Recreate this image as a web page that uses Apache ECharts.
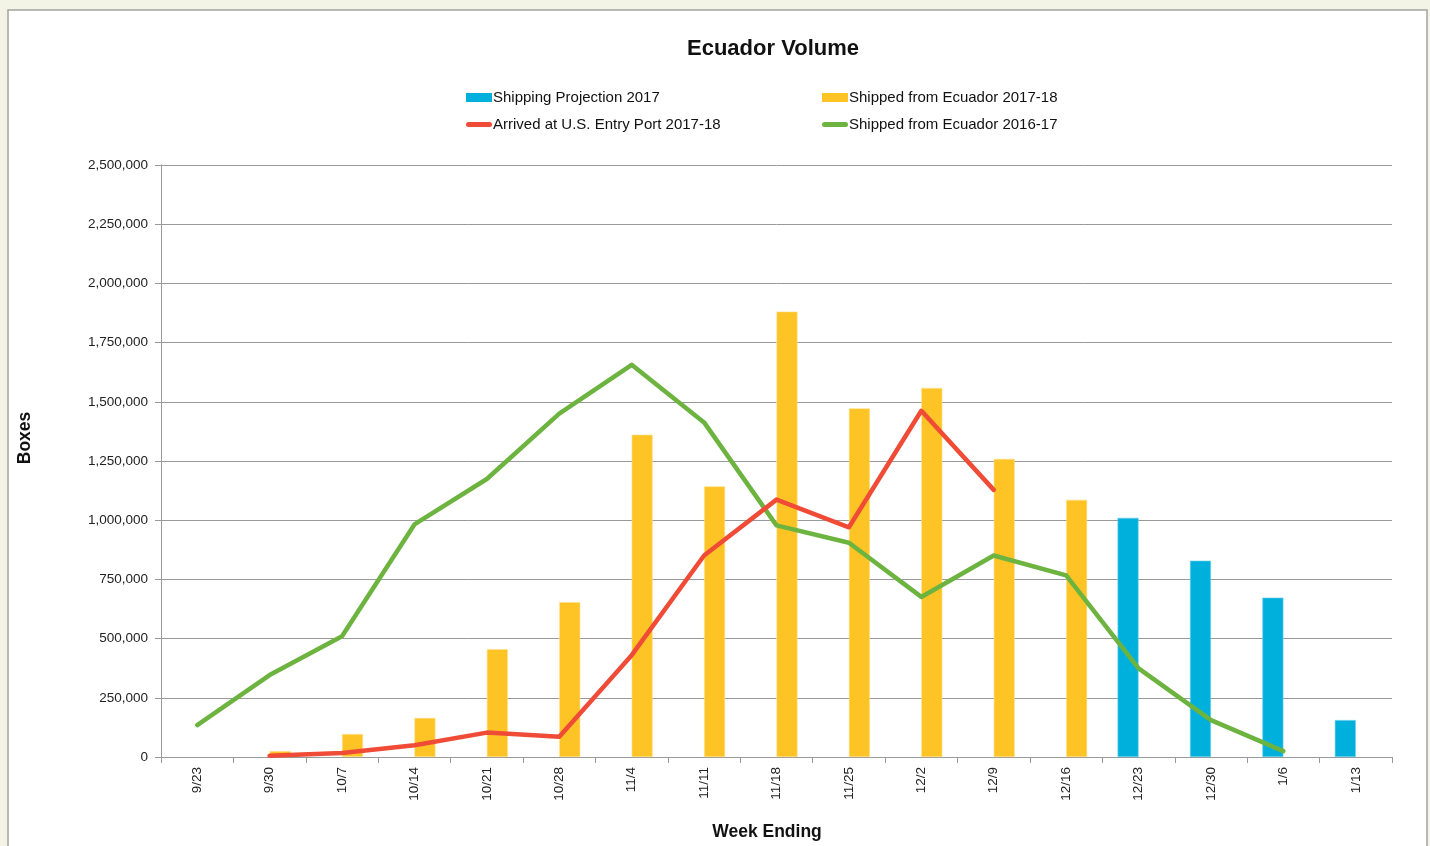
<!DOCTYPE html>
<html>
<head>
<meta charset="utf-8">
<script src="https://cdn.jsdelivr.net/npm/echarts@6/dist/echarts.min.js"></script>
<style>
html,body{margin:0;padding:0;background:#f3f3e6;}
#chart{width:1430px;height:846px;}
</style>
</head>
<body>
<div id="chart"></div>
<script>
var categories = ['9/23','9/30','10/7','10/14','10/21','10/28','11/4','11/11','11/18','11/25','12/2','12/9','12/16','12/23','12/30','1/6','1/13'];
var projection2017 = [null,null,null,null,null,null,null,null,null,null,null,null,null,1010000,829000,673000,156000];
var shipped201718 = [null,25000,97000,165000,455000,654000,1361000,1143000,1881000,1472000,1558000,1259000,1086000,null,null,null,null];
var arrived201718 = [5000,17000,50000,103000,86000,430000,851000,1087000,970000,1462000,1128000];
var arrivedSeries = [null].concat(arrived201718);
var shipped201617 = [135000,346000,510000,982000,1174000,1450000,1656000,1413000,978000,905000,676000,851000,767000,374000,156000,25000,null];
var yTicks = {min:0, max:2500000, interval:250000};

var chart = echarts.init(document.getElementById('chart'));
var font = 'Liberation Sans, Arial, sans-serif';
var lineIcon = 'path://M2.5,0 L23.5,0 A2.5,2.5 0 0 1 23.5,5 L2.5,5 A2.5,2.5 0 0 1 2.5,0 Z';
chart.setOption({
  backgroundColor: '#f3f3e6',
  animation: false,
  graphic: [{
    type: 'rect', z: -10, silent: true,
    shape: {x: 8, y: 10, width: 1419, height: 850},
    style: {fill: '#ffffff', stroke: '#a3a3a3', lineWidth: 1.5}
  }, {
    type: 'text', x: 773, y: 49, silent: true,
    style: {text: 'Ecuador Volume', fill: '#111', font: 'bold 22px ' + font, textAlign: 'center', textVerticalAlign: 'middle'}
  }, {
    type: 'text', x: 25, y: 438, rotation: Math.PI / 2, silent: true,
    style: {text: 'Boxes', fill: '#111', font: 'bold 17.5px ' + font, textAlign: 'center', textVerticalAlign: 'middle'}
  }, {
    type: 'text', x: 767, y: 832, silent: true,
    style: {text: 'Week Ending', fill: '#111', font: 'bold 17.5px ' + font, textAlign: 'center', textVerticalAlign: 'middle'}
  }],
  legend: [{
    left: 461, top: 85, orient: 'vertical', itemGap: 12, itemWidth: 26, itemHeight: 9,
    itemStyle: {borderWidth: 0},
    textStyle: {fontFamily: font, fontSize: 15, color: '#111', padding: [0,0,0,-4]},
    data: [{name: 'Shipping Projection 2017', icon: 'rect'},
           {name: 'Arrived at U.S. Entry Port 2017-18', icon: lineIcon}]
  }, {
    left: 817, top: 85, orient: 'vertical', itemGap: 12, itemWidth: 26, itemHeight: 9,
    itemStyle: {borderWidth: 0},
    textStyle: {fontFamily: font, fontSize: 15, color: '#111', padding: [0,0,0,-4]},
    data: [{name: 'Shipped from Ecuador 2017-18', icon: 'rect'},
           {name: 'Shipped from Ecuador 2016-17', icon: lineIcon}]
  }],
  grid: {left: 161, right: 38, top: 165, bottom: 89, containLabel: false},
  xAxis: {
    type: 'category', data: categories, boundaryGap: true,
    axisLine: {lineStyle: {color: '#999', width: 1}},
    axisTick: {show: true, alignWithLabel: false, length: 6, lineStyle: {color: '#999'}},
    axisLabel: {rotate: 90, margin: 10, fontFamily: font, fontSize: 13.5, color: '#222', interval: 0}
  },
  yAxis: {
    type: 'value', min: yTicks.min, max: yTicks.max, interval: yTicks.interval,
    axisLine: {show: true, lineStyle: {color: '#999', width: 1}},
    axisTick: {show: true, length: 6, lineStyle: {color: '#999'}},
    splitLine: {lineStyle: {color: '#999', width: 1}},
    axisLabel: {margin: 13, fontFamily: font, fontSize: 13.5, color: '#222',
      formatter: function(v){ return v.toLocaleString('en-US'); }}
  },
  series: [{
    name: 'Shipping Projection 2017', type: 'bar', data: projection2017,
    barWidth: 21, barGap: '0%',
    itemStyle: {color: '#00b0dc', borderColor: '#6fd0ea', borderWidth: 0.6}
  }, {
    name: 'Shipped from Ecuador 2017-18', type: 'bar', data: shipped201718,
    barWidth: 21, barGap: '0%',
    itemStyle: {color: '#fec425', borderColor: '#ffe08a', borderWidth: 0.6}
  }, {
    name: 'Arrived at U.S. Entry Port 2017-18', type: 'line', data: arrivedSeries,
    symbol: 'none', connectNulls: false, z: 5,
    itemStyle: {color: '#ef4b36'},
    lineStyle: {color: '#ef4b36', width: 4.5, cap: 'round', join: 'round'}
  }, {
    name: 'Shipped from Ecuador 2016-17', type: 'line', data: shipped201617,
    symbol: 'none', z: 4,
    itemStyle: {color: '#6db33f'},
    lineStyle: {color: '#6db33f', width: 4.5, cap: 'round', join: 'round'}
  }]
});
</script>
</body>
</html>
